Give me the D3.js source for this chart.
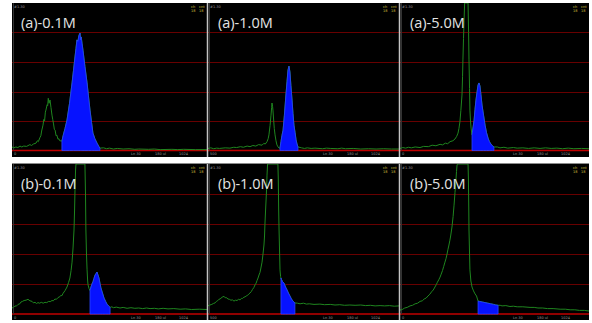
<!DOCTYPE html>
<html>
<head>
<meta charset="utf-8">
<script src="https://cdn.jsdelivr.net/npm/d3@7"></script>
<style>
  body { margin: 0; background: #fff; }
  svg { display: block; }
</style>
</head>
<body>
<svg id="chart" width="592" height="323"></svg>
<script>
// spectra: [channel, divisions above baseline]
const panelLabels = ['(a)-0.1M', '(a)-1.0M', '(a)-5.0M', '(b)-0.1M', '(b)-1.0M', '(b)-5.0M']

const traceA01 = [[0,0.12],[10,0.09],[20,0.12],[30,0.1],[41,0.15],[50,0.12],[60,0.15],[75,0.14],[92,0.2],[100,0.17],[110,0.22],[123,0.25],[130,0.33],[135,0.3],[144,0.45],[148,0.5],[152,0.66],[159,0.86],[163,1.05],[167,1.0],[171,1.3],[174,1.37],[180,1.55],[183,1.52],[186,1.77],[190,1.6],[195,1.71],[200,1.45],[205,1.2],[209,1.05],[213,0.9],[217,0.72],[221,0.69],[226,0.5],[230,0.52],[236,0.38],[240,0.4],[245,0.33],
  [256,0.32],[262,0.5],[272,0.75],[282,1.03],[295,1.6],[308,2.29],[315,2.7],[323,3.17],[328,3.45],[333,3.75],[338,3.7],[343,3.9],[349,3.98],[352,3.75],[355,3.85],[359,3.64],[364,3.4],[374,2.85],[385,2.29],[392,1.85],[400,1.37],[408,0.95],[415,0.59],[425,0.4],[436,0.25],[445,0.14],[451,0.08],
  [470,0.09],[485,0.06],[500,0.08],[520,0.05],[540,0.07],[570,0.05],[600,0.06],[630,0.04],[650,0.05],[700,0.04],[730,0.05],[760,0.03],[820,0.04],[850,0.03],[880,0.04],[940,0.03],[1000,0.03]]

const traceA10 = [[0,0.07],[15,0.09],[30,0.06],[45,0.08],[60,0.07],[90,0.09],[115,0.08],[135,0.11],[150,0.1],[170,0.13],[185,0.11],[205,0.15],[220,0.13],[235,0.17],[250,0.15],[265,0.2],[283,0.18],[292,0.24],[300,0.22],[309,0.3],[315,0.4],[319,0.53],[325,0.85],[330,1.2],[333,1.45],[335,1.61],[338,1.5],[340,1.37],[344,1.0],[347,0.75],[351,0.53],[356,0.33],[361,0.19],[367,0.12],[372,0.08],
  [377,0.08],[382,0.3],[387,0.5],[393,0.69],[400,1.2],[408,1.88],[414,2.35],[419,2.73],[424,2.86],[429,2.66],[434,2.2],[440,1.71],[445,1.25],[450,0.86],[456,0.6],[461,0.36],[466,0.22],[471,0.12],
  [490,0.09],[505,0.07],[520,0.09],[540,0.07],[560,0.08],[600,0.06],[620,0.08],[640,0.07],[680,0.06],[700,0.08],[720,0.06],[760,0.07],[800,0.05],[840,0.06],[880,0.05],[920,0.06],[960,0.05],[1000,0.05]]

const traceA50 = [[0,0.07],[15,0.1],[30,0.08],[45,0.11],[60,0.09],[80,0.12],[106,0.1],[125,0.14],[150,0.13],[170,0.18],[190,0.16],[212,0.21],[225,0.19],[240,0.25],[252,0.23],[265,0.3],[280,0.33],[291,0.39],[300,0.48],[307,0.59],[312,0.75],[317,0.97],[322,1.35],[328,1.88],[331,2.5],[333,3.07],[336,3.8],[339,4.42],[342,5.2],[345,6],[358,6],[360,5.0],[363,4.0],[365,3.07],[368,2.1],[370,1.37],[373,1.0],[376,0.76],
  [381,0.53],[387,0.8],[392,1.03],[397,1.4],[402,1.71],[408,2.0],[413,2.22],[418,2.29],[423,2.19],[428,1.9],[434,1.54],[442,1.2],[450,0.86],[458,0.6],[466,0.42],[473,0.3],[481,0.22],[489,0.16],[497,0.12],
  [515,0.12],[529,0.09],[550,0.11],[570,0.08],[600,0.1],[620,0.08],[650,0.09],[680,0.07],[710,0.09],[741,0.07],[770,0.09],[800,0.07],[830,0.08],[860,0.06],[890,0.08],[920,0.06],[960,0.07],[1000,0.06]]

const traceB01 = [[0,0.2],[8,0.22],[15,0.27],[22,0.26],[31,0.32],[40,0.34],[46,0.4],[54,0.42],[62,0.45],[72,0.46],[82,0.49],[92,0.44],[103,0.42],[110,0.37],[118,0.39],[126,0.35],[133,0.38],[142,0.36],[150,0.39],[160,0.36],[169,0.39],[178,0.38],[188,0.42],[196,0.41],[205,0.45],[212,0.44],[220,0.5],[228,0.49],[236,0.55],[244,0.57],[250,0.62],[256,0.61],[262,0.69],[272,0.78],[282,0.9],[290,1.05],[297,1.2],[303,1.45],[308,1.73],[313,2.2],[318,2.8],[321,3.5],[323,4.13],[326,4.8],[328,5.5],[374,5.5],[377,4.0],[379,2.8],[382,2.0],[385,1.47],[388,1.1],[390,0.97],[395,0.85],
  [400,0.78],[405,0.9],[410,1.0],[415,1.07],[420,1.18],[426,1.3],[431,1.35],[436,1.4],[441,1.3],[446,1.2],[451,1.03],[456,0.87],[464,0.7],[472,0.53],[480,0.42],[487,0.33],[495,0.27],[503,0.22],
  [512,0.24],[520,0.21],[535,0.23],[554,0.2],[570,0.22],[590,0.19],[610,0.21],[630,0.19],[650,0.2],[670,0.18],[690,0.2],[708,0.18],[730,0.19],[750,0.17],[775,0.19],[800,0.17],[830,0.18],[862,0.16],[890,0.17],[920,0.15],[960,0.16],[1000,0.15]]

const traceB10 = [[0,0.27],[10,0.3],[20,0.32],[28,0.35],[37,0.37],[44,0.42],[50,0.44],[57,0.49],[63,0.5],[74,0.56],[84,0.59],[90,0.54],[95,0.55],[105,0.5],[112,0.49],[120,0.46],[128,0.47],[136,0.43],[144,0.46],[152,0.45],[160,0.49],[168,0.47],[175,0.52],[181,0.52],[188,0.56],[194,0.57],[200,0.6],[207,0.62],[214,0.67],[220,0.7],[227,0.75],[233,0.82],[240,0.88],[246,0.97],[252,1.03],[257,1.12],[262,1.2],[267,1.3],[272,1.38],[276,1.5],[283,1.73],[288,2.0],[293,2.3],[296,2.6],[298,2.97],[301,3.4],[304,3.8],[307,4.2],[309,4.63],[312,5.0],[314,5.5],[366,5.5],[368,4.5],[370,3.5],[372,2.8],[375,2.0],[377,1.47],[380,1.25],
  [382,1.2],[385,1.15],[390,1.08],[398,1.03],[406,0.9],[414,0.8],[421,0.7],[429,0.6],[437,0.5],[445,0.43],[450,0.4],[455,0.37],
  [468,0.36],[482,0.34],[500,0.36],[515,0.33],[530,0.34],[555,0.32],[586,0.33],[610,0.31],[640,0.32],[665,0.3],[690,0.31],[715,0.29],[743,0.3],[770,0.29],[800,0.3],[825,0.28],[850,0.29],[875,0.27],[901,0.28],[925,0.27],[950,0.28],[975,0.26],[1000,0.27]]

const traceB50 = [[0,0.13],[12,0.15],[25,0.2],[38,0.22],[53,0.27],[66,0.29],[80,0.34],[93,0.36],[106,0.42],[118,0.44],[128,0.5],[138,0.53],[148,0.6],[158,0.66],[167,0.74],[176,0.8],[185,0.9],[192,0.98],[198,1.06],[205,1.14],[212,1.23],[218,1.33],[225,1.45],[231,1.58],[238,1.73],[244,1.86],[249,2.0],[254,2.16],[259,2.3],[264,2.46],[268,2.6],[275,2.9],[281,3.25],[286,3.63],[291,4.05],[296,4.47],[299,4.75],[302,4.97],[305,5.5],[360,5.5],[362,4.5],[364,3.5],[365,2.8],[368,2.0],[370,1.47],[375,1.1],[381,0.9],[389,0.77],[397,0.67],[405,0.6],
  [413,0.43],[420,0.42],[435,0.4],[450,0.38],[465,0.36],[480,0.34],[495,0.32],[507,0.3],[519,0.29],
  [530,0.29],[540,0.27],[560,0.28],[582,0.25],[600,0.26],[620,0.24],[650,0.24],[688,0.22],[710,0.22],[730,0.2],[755,0.2],[780,0.18],[810,0.18],[847,0.16],[875,0.16],[900,0.14],[925,0.14],[950,0.12],[975,0.12],[1000,0.1]]

const traces = [traceA01, traceA10, traceA50, traceB01, traceB10, traceB50]
const roiStart = [256, 377, 381, 400, 382, 413]
const roiEnd = [451, 471, 497, 503, 455, 519]
const gridDivisions = [1, 2, 3, 4]
const footerLeft = ['0', '500', '0', '0', '500', '0']
const footerTexts = ['Ln 30', '180 ul', '1024']

const cols = [{ x0: 12, x1: 207 }, { x0: 208, x1: 399 }, { x0: 400, x1: 589 }]
const rows = [{ y0: 3, y1: 157, top: 3, base: 150.5 }, { y0: 163, y1: 320, top: 164, base: 314 }]

const svg = d3.select('#chart')

panelLabels.forEach((label, i) => {
  const col = cols[i % 3]
  const row = rows[Math.floor(i / 3)]
  const g = svg.append('g')

  const x = d3.scaleLinear().domain([0, 1000]).range([col.x0, col.x1])
  const y = d3.scaleLinear().domain([0, 5]).range([row.base, row.top]).clamp(true)

  g.append('rect')
    .attr('x', col.x0).attr('y', row.y0)
    .attr('width', col.x1 - col.x0).attr('height', row.y1 - row.y0)
    .attr('fill', '#000')

  g.append('clipPath').attr('id', 'clip' + i)
    .append('rect')
    .attr('x', col.x0).attr('y', row.y0)
    .attr('width', col.x1 - col.x0).attr('height', row.y1 - row.y0)

  const plot = g.append('g').attr('clip-path', `url(#clip${i})`)

  plot.selectAll('line.grid')
    .data(gridDivisions)
    .enter().append('line')
    .attr('class', 'grid')
    .attr('x1', col.x0).attr('x2', col.x1)
    .attr('y1', d => Math.round(y(d)) + 0.5).attr('y2', d => Math.round(y(d)) + 0.5)
    .attr('stroke', '#680000')
    .attr('stroke-width', 1)

  plot.append('line')
    .attr('x1', col.x0).attr('x2', col.x1)
    .attr('y1', y(0)).attr('y2', y(0))
    .attr('stroke', '#c00000')
    .attr('stroke-width', 1.5)

  // dim left axis
  plot.append('line')
    .attr('x1', col.x0 + 1.5).attr('x2', col.x0 + 1.5)
    .attr('y1', row.top).attr('y2', y(0))
    .attr('stroke', '#333')

  const data = traces[i]
  const line = d3.line().x(d => x(d[0])).y(d => y(d[1]))
  plot.append('path')
    .datum(data)
    .attr('d', line)
    .attr('fill', 'none')
    .attr('stroke', '#1f861f')
    .attr('stroke-width', 1)

  const roi = data.filter(d => d[0] >= roiStart[i] && d[0] <= roiEnd[i])
  const area = d3.area().x(d => x(d[0])).y0(y(0)).y1(d => y(d[1]))
  plot.append('path')
    .datum(roi)
    .attr('d', area)
    .attr('fill', '#0612ff')
    .attr('stroke', '#2a44ff')
    .attr('stroke-width', 0.8)

  g.append('text')
    .attr('x', col.x0 + (i % 3 === 0 ? 9 : 10))
    .attr('y', row.top + 24.5)
    .attr('font-family', 'Open Sans, sans-serif')
    .attr('font-size', 14.5)
    .attr('fill', '#e4e4e4')
    .text(label)

  g.append('text')
    .attr('x', col.x0 + 2).attr('y', row.top + 5)
    .attr('font-family', 'DejaVu Sans, sans-serif')
    .attr('font-size', 3.5)
    .attr('fill', '#9a9a9a')
    .text('#1.30')

  // small yellow legend marks top right
  ;['ch', 'cnt'].forEach((t, k) => {
    g.append('text')
      .attr('x', col.x1 - 16 + k * 8).attr('y', row.top + 5)
      .attr('font-family', 'DejaVu Sans, sans-serif')
      .attr('font-size', 3.5)
      .attr('fill', '#d8c040')
      .text(t)
    g.append('text')
      .attr('x', col.x1 - 16 + k * 8).attr('y', row.top + 9)
      .attr('font-family', 'DejaVu Sans, sans-serif')
      .attr('font-size', 3.5)
      .attr('fill', '#d8c040')
      .text('18')
  })

  const footY = row.base + 4.5
  g.append('text')
    .attr('x', col.x0 + 2).attr('y', footY)
    .attr('font-family', 'DejaVu Sans, sans-serif')
    .attr('font-size', 3.5)
    .attr('fill', '#9a9a9a')
    .text(footerLeft[i])

  g.selectAll('text.foot')
    .data(footerTexts)
    .enter().append('text')
    .attr('class', 'foot')
    .attr('x', (d, k) => col.x1 - 76 + k * 24)
    .attr('y', footY)
    .attr('font-family', 'DejaVu Sans, sans-serif')
    .attr('font-size', 3.5)
    .attr('fill', '#9a9a9a')
    .text(d => d)
})

// separators between panels
;[207.5, 399.5].forEach(sx => {
  rows.forEach(row => {
    svg.append('line')
      .attr('x1', sx).attr('x2', sx)
      .attr('y1', row.y0).attr('y2', row.y1)
      .attr('stroke', '#c4c4c4')
      .attr('stroke-width', 1.5)
  })
})

svg.append('line')
  .attr('x1', cols[0].x0).attr('x2', cols[2].x1)
  .attr('y1', rows[1].y0 + 0.5).attr('y2', rows[1].y0 + 0.5)
  .attr('stroke', '#8a8a8a')
</script>
</body>
</html>
